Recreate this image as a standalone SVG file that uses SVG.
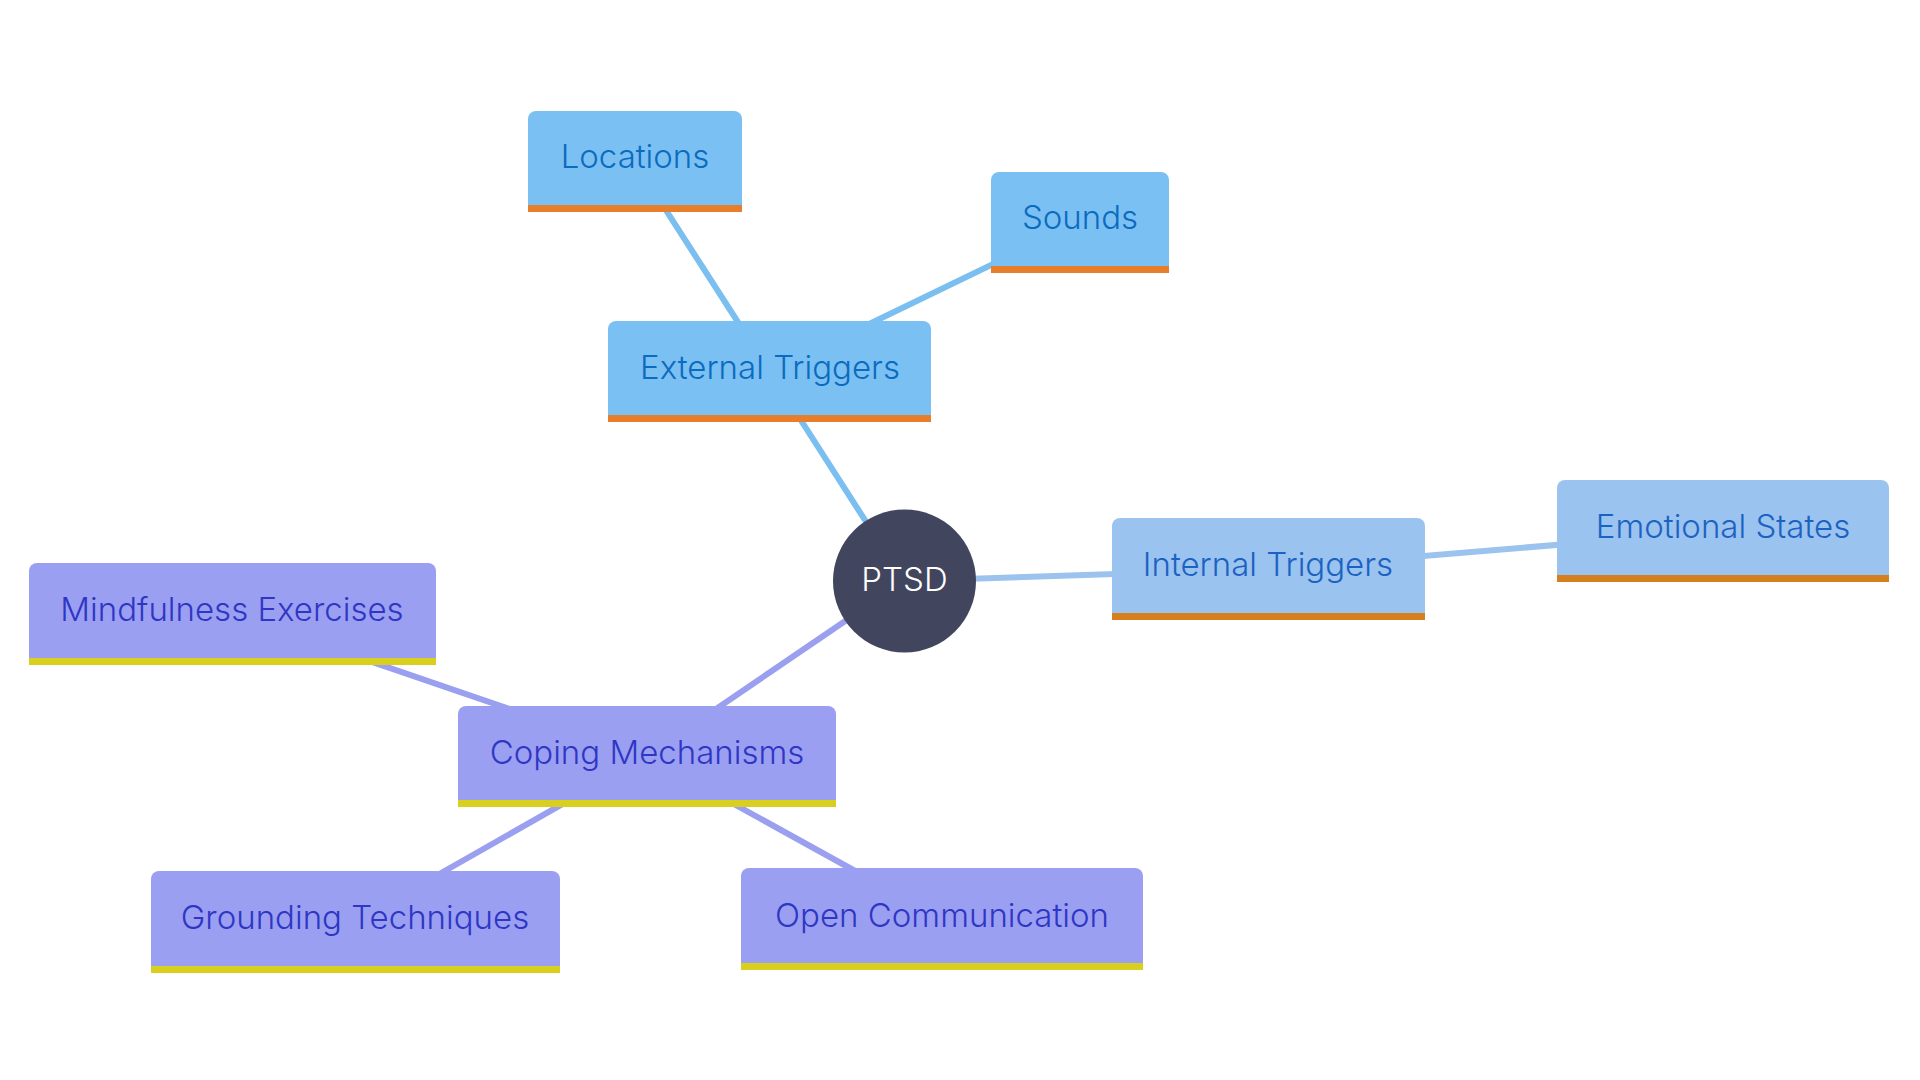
<svg xmlns="http://www.w3.org/2000/svg" width="1920" height="1080" viewBox="0 0 1920 1080">
<style>
.lbl{font-family:Inter,"Noto Sans",sans-serif;font-size:33px;font-weight:300;text-anchor:middle}
.ext .bg{fill:#7bc0f2}.ext .bar{fill:#e87d2b}.ext text{fill:#0b6bbf}
.int .bg{fill:#9bc3ef}.int .bar{fill:#d57f1e}.int text{fill:#1b62c2}
.cop .bg{fill:#9a9ff2}.cop .bar{fill:#d8cf1e}.cop text{fill:#2f36c4}
.e{stroke-width:6;fill:none}
.ee{stroke:#7bbef0}.ei{stroke:#9bc3ee}.ec{stroke:#9a9ff0}
</style>
<rect width="1920" height="1080" fill="#ffffff"/>
<g id="connectors">
<line class="e ee" x1="904" y1="581" x2="770" y2="372"/>
<line class="e ee" x1="770" y1="372" x2="635" y2="162"/>
<line class="e ee" x1="770" y1="372" x2="1080" y2="222"/>
<line class="e ei" x1="904" y1="581" x2="1268" y2="569"/>
<line class="e ei" x1="1268" y1="569" x2="1723" y2="531"/>
<line class="e ec" x1="904" y1="581" x2="647" y2="756"/>
<line class="e ec" x1="647" y1="756" x2="232" y2="614"/>
<line class="e ec" x1="647" y1="756" x2="355" y2="922"/>
<line class="e ec" x1="647" y1="756" x2="942" y2="919"/>
</g>
<g id="ptsd">
<circle cx="904.5" cy="581" r="71.5" fill="#41455d"/>
<text class="lbl" x="904.5" y="591" fill="#ffffff">PTSD</text>
</g>
<g id="external-triggers" class="ext">
<path class="bg" d="M608,422V329a8,8 0 0 1 8-8H923a8,8 0 0 1 8,8V422Z"/>
<rect class="bar" x="608" y="415" width="323" height="7"/>
<text class="lbl" x="770" y="379">External Triggers</text>
</g>
<g id="locations" class="ext">
<path class="bg" d="M528,212V119a8,8 0 0 1 8-8H734a8,8 0 0 1 8,8V212Z"/>
<rect class="bar" x="528" y="205" width="214" height="7"/>
<text class="lbl" x="635" y="168">Locations</text>
</g>
<g id="sounds" class="ext">
<path class="bg" d="M991,273V180a8,8 0 0 1 8-8H1161a8,8 0 0 1 8,8V273Z"/>
<rect class="bar" x="991" y="266" width="178" height="7"/>
<text class="lbl" x="1080" y="229">Sounds</text>
</g>
<g id="internal-triggers" class="int">
<path class="bg" d="M1112,620V526a8,8 0 0 1 8-8H1417a8,8 0 0 1 8,8V620Z"/>
<rect class="bar" x="1112" y="613" width="313" height="7"/>
<text class="lbl" x="1268" y="576">Internal Triggers</text>
</g>
<g id="emotional-states" class="int">
<path class="bg" d="M1557,582V488a8,8 0 0 1 8-8H1881a8,8 0 0 1 8,8V582Z"/>
<rect class="bar" x="1557" y="575" width="332" height="7"/>
<text class="lbl" x="1723" y="538">Emotional States</text>
</g>
<g id="coping-mechanisms" class="cop">
<path class="bg" d="M458,807V714a8,8 0 0 1 8-8H828a8,8 0 0 1 8,8V807Z"/>
<rect class="bar" x="458" y="800" width="378" height="7"/>
<text class="lbl" x="647" y="764">Coping Mechanisms</text>
</g>
<g id="mindfulness-exercises" class="cop">
<path class="bg" d="M29,665V571a8,8 0 0 1 8-8H428a8,8 0 0 1 8,8V665Z"/>
<rect class="bar" x="29" y="658" width="407" height="7"/>
<text class="lbl" x="232" y="621">Mindfulness Exercises</text>
</g>
<g id="grounding-techniques" class="cop">
<path class="bg" d="M151,973V879a8,8 0 0 1 8-8H552a8,8 0 0 1 8,8V973Z"/>
<rect class="bar" x="151" y="966" width="409" height="7"/>
<text class="lbl" x="355" y="929">Grounding Techniques</text>
</g>
<g id="open-communication" class="cop">
<path class="bg" d="M741,970V876a8,8 0 0 1 8-8H1135a8,8 0 0 1 8,8V970Z"/>
<rect class="bar" x="741" y="963" width="402" height="7"/>
<text class="lbl" x="942" y="927">Open Communication</text>
</g>
</svg>
